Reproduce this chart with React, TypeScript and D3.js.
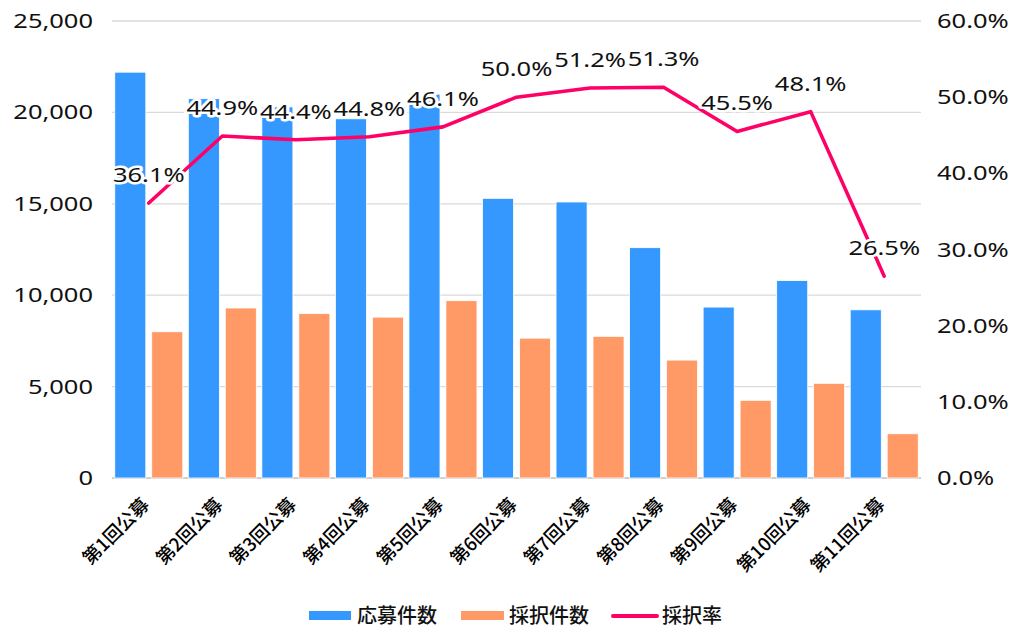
import React from 'react';
import * as d3 from 'd3';

const categories = ['第1回公募', '第2回公募', '第3回公募', '第4回公募', '第5回公募', '第6回公募', '第7回公募', '第8回公募', '第9回公募', '第10回公募', '第11回公募'];
const applications = [22200, 20750, 20300, 19650, 21000, 15300, 15100, 12600, 9350, 10800, 9200];
const adoptions = [8000, 9300, 9000, 8800, 9700, 7650, 7750, 6450, 4250, 5180, 2420];
const adoptionRate = [36.1, 44.9, 44.4, 44.8, 46.1, 50.0, 51.2, 51.3, 45.5, 48.1, 26.5];
const leftTicks = [0, 5000, 10000, 15000, 20000, 25000];
const rightTicks = [0, 10, 20, 30, 40, 50, 60];
const seriesNames = ['応募件数', '採択件数', '採択率'];

const W = 1024;
const H = 644;
const plot = { left: 112, right: 921, top: 21, bottom: 478 };
const BLUE = '#3598fe';
const ORANGE = '#ff9966';
const PINK = '#ff0066';
const LATIN = '"Noto Sans", "Open Sans", sans-serif';
const CJK = '"Noto Sans CJK JP", "Noto Sans", sans-serif';
const SX = 1.3;
const FS = 19.6;

export default function App() {
  const x = d3.scaleBand<string>().domain(categories).range([plot.left, plot.right]).paddingInner(0).paddingOuter(0);
  const inner = d3.scaleBand<string>().domain(['a', 'b']).range([0, x.bandwidth()]).paddingInner(0.16).paddingOuter(0.075);
  const yL = d3.scaleLinear().domain([0, 25000]).range([plot.bottom, plot.top]);
  const yR = d3.scaleLinear().domain([0, 60]).range([plot.bottom, plot.top]);
  const fmt = d3.format(',');
  const cx = (c: string) => (x(c) as number) + x.bandwidth() / 2;

  const line = d3.line<number>()
    .x((_, i) => cx(categories[i]))
    .y((d) => yR(d));

  return (
    <svg width={W} height={H} style={{ position: 'absolute', left: 0, top: 0, background: '#fff' }}>
      {leftTicks.map((t) => (
        <line key={'g' + t} x1={plot.left} x2={plot.right} y1={yL(t)} y2={yL(t)}
          stroke={t === 0 ? '#d0d0d0' : '#dadada'} strokeWidth={t === 0 ? 2 : 1.3} />
      ))}
      {leftTicks.map((t) => (
        <g key={'l' + t} transform={`translate(93,${yL(t)}) scale(${SX},1)`}>
          <text x={0} y={0} dy="0.36em" textAnchor="end" fontFamily={LATIN} fontSize={FS} fill="#111">{fmt(t)}</text>
        </g>
      ))}
      {rightTicks.map((t) => (
        <g key={'r' + t} transform={`translate(937,${yR(t)}) scale(${SX},1)`}>
          <text x={0} y={0} dy="0.36em" textAnchor="start" fontFamily={LATIN} fontSize={FS} fill="#111">{t.toFixed(1) + '%'}</text>
        </g>
      ))}
      {categories.map((c, i) => (
        <g key={'b' + c} transform={`translate(${x(c)},0)`}>
          <rect x={inner('a')} y={yL(applications[i])} width={inner.bandwidth()} height={yL(0) - yL(applications[i])}
            fill={BLUE} stroke="#fff" strokeWidth={0.8} />
          <rect x={inner('b')} y={yL(adoptions[i])} width={inner.bandwidth()} height={yL(0) - yL(adoptions[i])}
            fill={ORANGE} stroke="#fff" strokeWidth={0.8} />
        </g>
      ))}
      <path d={line(adoptionRate) || ''} fill="none" stroke={PINK} strokeWidth={3.6} strokeLinejoin="round" strokeLinecap="round" />
      {adoptionRate.map((r, i) => (
        <g key={'d' + i} transform={`translate(${cx(categories[i])},${yR(r) - 21}) scale(${SX},1)`}>
          <text x={0} y={0} textAnchor="middle" fontFamily={LATIN} fontSize={FS} fill="#111"
            stroke="#fff" strokeWidth={5} strokeLinejoin="round" paintOrder="stroke">{r.toFixed(1) + '%'}</text>
        </g>
      ))}
      {categories.map((c) => (
        <text key={'x' + c} transform={`translate(${cx(c) + 1.5},506) rotate(-45)`} textAnchor="end"
          fontFamily={CJK} fontSize={18.5} fontWeight={500} fill="#000">{c}</text>
      ))}
      <g>
        <rect x={309} y={611} width={42} height={9} fill={BLUE} />
        <text x={357} y={616} dy="0.36em" fontFamily={CJK} fontSize={20} fontWeight={500} fill="#111">{seriesNames[0]}</text>
        <rect x={461} y={611} width={43} height={9} fill={ORANGE} />
        <text x={509} y={616} dy="0.36em" fontFamily={CJK} fontSize={20} fontWeight={500} fill="#111">{seriesNames[1]}</text>
        <line x1={613} x2={657} y1={616} y2={616} stroke={PINK} strokeWidth={4} strokeLinecap="round" />
        <text x={662} y={616} dy="0.36em" fontFamily={CJK} fontSize={20} fontWeight={500} fill="#111">{seriesNames[2]}</text>
      </g>
    </svg>
  );
}
